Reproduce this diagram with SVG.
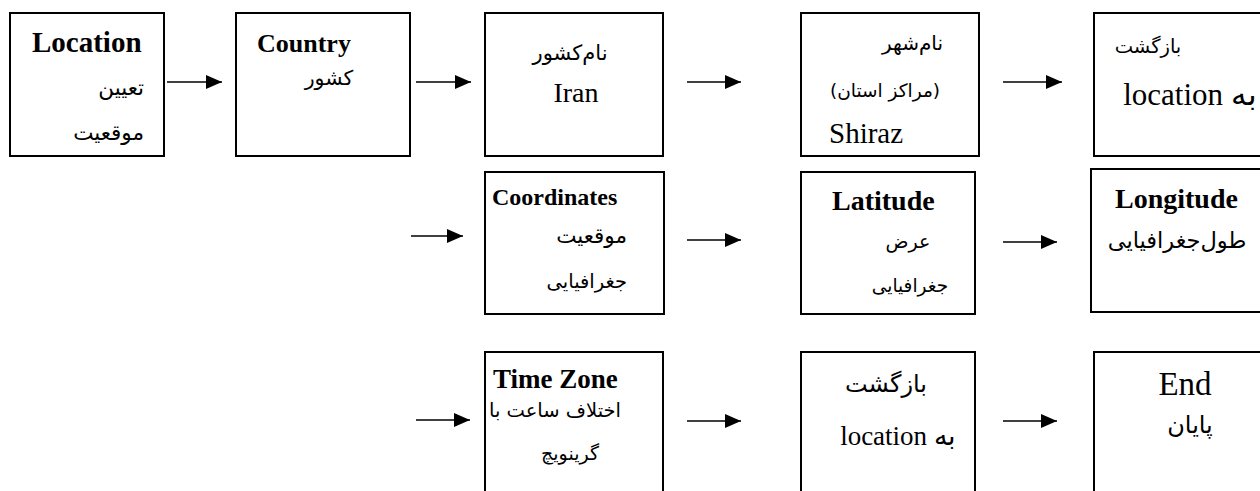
<svg xmlns="http://www.w3.org/2000/svg" width="1260" height="491" viewBox="0 0 1260 491">
<defs>
<style>
.box{fill:#fff;stroke:#000;stroke-width:2}
.en{font-family:"Liberation Serif","Times New Roman",serif;fill:#000}
.b{font-weight:bold}
.fa{font-family:"DejaVu Sans","Noto Sans",sans-serif;fill:#000}
.c{text-anchor:middle}
.r{text-anchor:end}
.rtl{direction:rtl;unicode-bidi:embed}
.arr{stroke:#000;stroke-width:1.6;fill:none}
</style>
<marker id="ah" markerUnits="userSpaceOnUse" markerWidth="16" markerHeight="14" refX="16" refY="7" orient="auto">
<path d="M0,0 L16,7 L0,14 Z" fill="#000"/>
</marker>
</defs>
<rect width="1260" height="491" fill="#fff"/>
<g id="connectors">
<line class="arr" x1="167" y1="82" x2="222" y2="82" marker-end="url(#ah)"/>
<line class="arr" x1="416" y1="82" x2="471" y2="82" marker-end="url(#ah)"/>
<line class="arr" x1="687" y1="82" x2="741" y2="82" marker-end="url(#ah)"/>
<line class="arr" x1="1003" y1="82" x2="1062" y2="82" marker-end="url(#ah)"/>
<line class="arr" x1="411" y1="236" x2="463" y2="236" marker-end="url(#ah)"/>
<line class="arr" x1="687" y1="240" x2="741" y2="240" marker-end="url(#ah)"/>
<line class="arr" x1="1003" y1="242" x2="1057" y2="242" marker-end="url(#ah)"/>
<line class="arr" x1="416" y1="420" x2="470" y2="420" marker-end="url(#ah)"/>
<line class="arr" x1="687" y1="421" x2="741" y2="421" marker-end="url(#ah)"/>
<line class="arr" x1="1003" y1="421" x2="1057" y2="421" marker-end="url(#ah)"/>
</g>
<g id="location">
<rect class="box" x="10" y="13" width="154" height="143"/>
<text class="en b" x="32" y="52" font-size="29">Location</text>
<text class="fa r" x="144" y="95" font-size="21.5">تعيين</text>
<text class="fa r" x="144" y="140" font-size="21.5">موقعيت</text>
</g>
<g id="country">
<rect class="box" x="236" y="13" width="174" height="143"/>
<text class="en b" x="257" y="52" font-size="26">Country</text>
<text class="fa c" x="329" y="85" font-size="20.5">کشور</text>
</g>
<g id="countryname">
<rect class="box" x="485" y="13" width="178" height="143"/>
<text class="fa c" x="570" y="60" font-size="21">نام‌کشور</text>
<text class="en c" x="576" y="102" font-size="28">Iran</text>
</g>
<g id="cityname">
<rect class="box" x="801" y="13" width="178" height="143"/>
<text class="fa r" x="943" y="50" font-size="20">نام‌شهر</text>
<text class="fa c rtl" x="885" y="97" font-size="18.5">(مراکز استان)</text>
<text class="en" x="829" y="143" font-size="29">Shiraz</text>
</g>
<g id="back1">
<rect class="box" x="1094" y="13" width="180" height="143"/>
<text class="fa c" x="1148" y="53" font-size="19.5">بازگشت</text>
<text class="en c rtl" x="1190" y="105" font-size="31">به location</text>
</g>
<g id="coordinates">
<rect class="box" x="485" y="172" width="179" height="142"/>
<text class="en b" x="492" y="205" font-size="24">Coordinates</text>
<text class="fa r" x="627" y="243" font-size="21.5">موقعيت</text>
<text class="fa r" x="627" y="288" font-size="19.5">جغرافيايی</text>
</g>
<g id="latitude">
<rect class="box" x="801" y="172" width="174" height="142"/>
<text class="en b" x="832" y="210" font-size="28">Latitude</text>
<text class="fa c" x="908" y="248" font-size="19">عرض</text>
<text class="fa c" x="910" y="292" font-size="18.5">جغرافيايی</text>
</g>
<g id="longitude">
<rect class="box" x="1091" y="169" width="180" height="143"/>
<text class="en b" x="1115" y="208" font-size="28">Longitude</text>
<text class="fa c" x="1177" y="248" font-size="22.5">طول‌جغرافيايی</text>
</g>
<g id="timezone">
<rect class="box" x="485" y="352" width="178" height="150"/>
<text class="en b" x="493" y="388" font-size="27">Time Zone</text>
<text class="fa c rtl" x="555" y="417" font-size="19.5">اختلاف ساعت با</text>
<text class="fa c" x="570" y="460" font-size="19">گرينويچ</text>
</g>
<g id="back2">
<rect class="box" x="801" y="352" width="174" height="150"/>
<text class="fa c" x="886" y="392" font-size="24">بازگشت</text>
<text class="en c rtl" x="898" y="445" font-size="27">به location</text>
</g>
<g id="end">
<rect class="box" x="1094" y="352" width="180" height="150"/>
<text class="en c" x="1185" y="395" font-size="33">End</text>
<text class="fa c" x="1190" y="433" font-size="24">پايان</text>
</g>
</svg>
